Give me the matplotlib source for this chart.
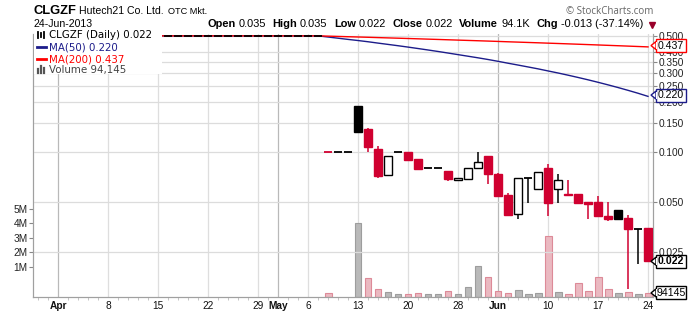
import matplotlib
matplotlib.use("Agg")
import matplotlib.pyplot as plt
from matplotlib.patches import Rectangle, Polygon
from matplotlib.lines import Line2D
import numpy as np
import pandas as pd

plt.rcParams['font.family'] = 'Liberation Sans'

# trading days on the chart (Mar 29 and May 27 were market holidays)
dates = pd.bdate_range('2013-03-27', '2013-06-24')
dates = dates[~dates.isin(pd.to_datetime(['2013-03-29', '2013-05-27']))]

# daily OHLC: no trades at 0.500 until May 8
opens = [0.5, 0.5, 0.5, 0.5, 0.5, 0.5, 0.5, 0.5, 0.5, 0.5,
         0.5, 0.5, 0.5, 0.5, 0.5, 0.5, 0.5, 0.5, 0.5, 0.5,
         0.5, 0.5, 0.5, 0.5, 0.5, 0.5, 0.5, 0.5, 0.5,
         0.1, 0.1, 0.1, 0.189, 0.1375, 0.104, 0.0727, 0.1, 0.1, 0.0907,
         0.08, 0.08, 0.0768, 0.0678, 0.0688, 0.08, 0.095, 0.0737, 0.0551, 0.0422,
         0.0697, 0.0596, 0.0798, 0.0596, 0.0561, 0.0559, 0.05, 0.0498, 0.0412, 0.0446,
         0.0401, 0.0345, 0.035]
highs = [0.5, 0.5, 0.5, 0.5, 0.5, 0.5, 0.5, 0.5, 0.5, 0.5,
         0.5, 0.5, 0.5, 0.5, 0.5, 0.5, 0.5, 0.5, 0.5, 0.5,
         0.5, 0.5, 0.5, 0.5, 0.5, 0.5, 0.5, 0.5, 0.5,
         0.1, 0.1, 0.1, 0.189, 0.139, 0.1087, 0.0946, 0.1, 0.1, 0.0907,
         0.08, 0.08, 0.0768, 0.0697, 0.08, 0.1, 0.095, 0.075, 0.0566, 0.0697,
         0.0697, 0.0755, 0.0843, 0.0734, 0.0681, 0.0559, 0.05, 0.0543, 0.05, 0.0446,
         0.0418, 0.0345, 0.035]
lows = [0.5, 0.5, 0.5, 0.5, 0.5, 0.5, 0.5, 0.5, 0.5, 0.5,
        0.5, 0.5, 0.5, 0.5, 0.5, 0.5, 0.5, 0.5, 0.5, 0.5,
        0.5, 0.5, 0.5, 0.5, 0.5, 0.5, 0.5, 0.5, 0.5,
        0.1, 0.1, 0.1, 0.132, 0.1, 0.0697, 0.0727, 0.1, 0.0895, 0.079,
        0.08, 0.08, 0.067, 0.0678, 0.0688, 0.08, 0.064, 0.0546, 0.0419, 0.0397,
        0.0496, 0.0596, 0.0413, 0.0496, 0.0553, 0.0496, 0.0397, 0.041, 0.0384, 0.0397,
        0.0149, 0.0211, 0.022]
closes = [0.5, 0.5, 0.5, 0.5, 0.5, 0.5, 0.5, 0.5, 0.5, 0.5,
          0.5, 0.5, 0.5, 0.5, 0.5, 0.5, 0.5, 0.5, 0.5, 0.5,
          0.5, 0.5, 0.5, 0.5, 0.5, 0.5, 0.5, 0.5, 0.5,
          0.1, 0.1, 0.1, 0.132, 0.107, 0.0717, 0.0946, 0.1, 0.0895, 0.079,
          0.08, 0.08, 0.069, 0.0697, 0.08, 0.0871, 0.074, 0.0546, 0.0419, 0.0697,
          0.0697, 0.0755, 0.0496, 0.0675, 0.0553, 0.0496, 0.0488, 0.041, 0.0397, 0.0397,
          0.0345, 0.0345, 0.022]
# volume in millions, as bar heights on the overlay scale
volumes = [0, 0, 0, 0, 0, 0, 0, 0, 0, 0,
           0, 0, 0, 0, 0, 0, 0, 0, 0, 0,
           0, 0, 0, 0, 0, 0, 0, 0, 0,
           0.28, 0, 0, 5.1, 1.31, 0.55, 0.34, 0.21, 0.21, 0.28,
           0.21, 0.21, 0.41, 0.21, 0.69, 2.14, 1.38, 0.41, 0.28, 0.48,
           0.21, 0.28, 4.2, 0.34, 0.21, 0.97, 0.41, 1.38, 0.55, 0.28,
           0.34, 0.21, 0.28]
PRIOR_CLOSE = 0.5   # flat price before the window, used to seed the MAs

tick_dates = ['2013-04-01', '2013-04-08', '2013-04-15', '2013-04-22', '2013-04-29',
              '2013-05-01', '2013-05-06', '2013-05-13', '2013-05-20', '2013-05-28',
              '2013-06-03', '2013-06-10', '2013-06-17', '2013-06-24']
tick_labels = ['Apr', '8', '15', '22', '29', 'May', '6', '13', '20', '28',
               'Jun', '10', '17', '24']
month_ticks = ['Apr', 'May', 'Jun']
price_ticks = [0.025, 0.05, 0.1, 0.15, 0.2, 0.25, 0.3, 0.35, 0.4, 0.5]
vol_ticks = [1, 2, 3, 4, 5]

RED = '#d00030'
BLUE = '#1c1c8a'
MA_RED = '#ff0000'
W, H = 700, 312


def fx(px):
    return px / W


def fy(py):
    return 1 - py / H


fig = plt.figure(figsize=(7, 3.12), dpi=100)
ax_v = fig.add_axes([fx(33), fy(297), fx(653) - fx(33), fy(34) - fy(297)])
ax_p = ax_v.twinx()

x = np.arange(len(dates))
o, h, l, c = (np.array(a) for a in (opens, highs, lows, closes))
prev = np.r_[c[0], c[:-1]]
down = c < prev

# volume overlay
VOL_LIM = (-1.07, 17.07)
vol = np.array(volumes)
has = vol > 0
ax_v.bar(x[has], vol[has], bottom=VOL_LIM[0], width=0.7,
         color=np.where(down[has], '#eab9c1', '#b9b9b9'),
         edgecolor=np.where(down[has], '#dd8a98', '#9d9d9d'), linewidth=0.8, zorder=2)
ax_v.set_ylim(*VOL_LIM)
ax_v.set_yticks(vol_ticks)
ax_v.set_yticklabels([f'{v}M' for v in vol_ticks])

# vertical grid on the back axes
xi = {d: i for i, d in enumerate(dates.strftime('%Y-%m-%d'))}
tick_x = [xi[d] for d in tick_dates]
for tx, lab in zip(tick_x, tick_labels):
    ax_v.axvline(tx, color='#b9b9b9' if lab in month_ticks else '#dedede', lw=0.9, zorder=0)

# moving averages
seed = pd.Series([PRIOR_CLOSE] * 200 + closes)
ma50 = seed.rolling(50).mean().to_numpy()[200:]
ma200 = seed.rolling(200).mean().to_numpy()[200:]

ax_p.set_yscale('log')
for t in price_ticks:
    ax_p.axhline(t, color='#dcdcdc', lw=0.9, zorder=0)
ax_p.plot(x, ma50, color=BLUE, lw=1.0, zorder=2)
ax_p.plot(x, ma200, color=MA_RED, lw=1.0, zorder=2)

# candles
for i in x:
    col = RED if down[i] else 'black'
    if h[i] > l[i]:
        ax_p.vlines(i, l[i], h[i], color=col, lw=1.1, zorder=3)
    if o[i] == c[i]:
        ax_p.hlines(c[i], i - 0.36, i + 0.36, color=col, lw=1.3, zorder=4)
    else:
        filled = c[i] < o[i]
        ax_p.bar(i, abs(c[i] - o[i]), bottom=min(o[i], c[i]), width=0.72,
                 color=col if filled else 'white', edgecolor=col, lw=1.0, zorder=4)

ax_p.set_ylim(0.0134, 0.513)
ax_p.set_xlim(-0.5, len(dates) - 0.5)
ax_p.set_yticks(price_ticks)
ax_p.set_yticklabels([f'{t:.3f}' for t in price_ticks])
ax_p.yaxis.set_minor_locator(matplotlib.ticker.NullLocator())

ax_v.set_xticks(tick_x)
ax_v.set_xticklabels(tick_labels)
for lab in ax_v.get_xticklabels():
    if lab.get_text() in month_ticks:
        lab.set_fontweight('bold')
ax_v.set_xticks(x, minor=True)

for a in (ax_v, ax_p):
    for side in ('left', 'right', 'bottom'):
        a.spines[side].set_color('#a0a0a0')
    a.spines['top'].set_visible(False)
ax_v.tick_params(axis='x', which='major', length=0, pad=3, labelsize=7.3, colors='#111')
ax_v.tick_params(axis='x', which='minor', length=2, color='#bbbbbb')
ax_v.tick_params(axis='y', length=3, color='#888', labelsize=7.3, pad=1, labelcolor='#222')
ax_p.tick_params(axis='y', length=3, color='#888', labelsize=7.3, pad=1, labelcolor='#222')

# header
fig.text(fx(33), fy(11), 'CLGZF', fontsize=9.3, fontweight='bold', va='center')
fig.text(fx(79), fy(11), 'Hutech21 Co. Ltd.', fontsize=7.6, va='center')
fig.text(fx(168), fy(11.5), 'OTC Mkt.', fontsize=6.6, va='center')
fig.text(fx(33), fy(24), '24-Jun-2013', fontsize=7.6, va='center')
fig.text(fx(653), fy(11), '\u00a9 StockCharts.com', fontsize=7, family='Open Sans',
         color='#666', va='center', ha='right')

renderer = fig.canvas.get_renderer()
pieces = [('Open', 'bold'), ('0.035', 'normal'), ('High', 'bold'), ('0.035', 'normal'),
          ('Low', 'bold'), ('0.022', 'normal'), ('Close', 'bold'), ('0.022', 'normal'),
          ('Volume', 'bold'), ('94.1K', 'normal'), ('Chg', 'bold'), ('-0.013 (-37.14%)', 'normal')]
cur = 207
for s, wt in pieces:
    t = fig.text(fx(cur), fy(24), s, fontsize=7.9, fontweight=wt, va='center')
    bb = t.get_window_extent(renderer)
    cur = bb.x1 + (3 if wt == 'bold' else 6.5)
fig.add_artist(Line2D([fx(cur + 2)], [fy(24.5)], marker='v', ms=4.5, color='#99002a', ls=''))

# legend block
fig.add_artist(Rectangle((fx(34), fy(74)), fx(162) - fx(34), fy(34) - fy(74),
                         transform=fig.transFigure, fc='white', ec='none', zorder=3))
leg_rows = [('CLGZF (Daily) 0.022', 'black', 35), ('MA(50) 0.220', BLUE, 47),
            ('MA(200) 0.437', MA_RED, 59), ('Volume 94,145', '#444', 70)]
for s, col, yy in leg_rows:
    fig.text(fx(49), fy(yy), s, fontsize=7.4, family='DejaVu Sans', color=col,
             va='center', zorder=4)
for dx, y0, y1 in [(38, 31.5, 38), (41, 33, 37), (44, 32, 38)]:
    fig.add_artist(Line2D([fx(dx), fx(dx)], [fy(y0), fy(y1)], color='black', lw=1.3, zorder=4))
fig.add_artist(Line2D([fx(37), fx(46)], [fy(47), fy(47)], color=BLUE, lw=2, zorder=4))
fig.add_artist(Line2D([fx(37), fx(46)], [fy(59), fy(59)], color=MA_RED, lw=2, zorder=4))
for dx, top in [(38, 69), (41, 66), (44, 67.5)]:
    fig.add_artist(Line2D([fx(dx), fx(dx)], [fy(73), fy(top)], color='#555', lw=1.6, zorder=4))

# value tags on the right edge
fig.canvas.draw()


def tag(ypx, text, col, bold=False):
    fig.add_artist(Rectangle((fx(656), fy(ypx + 6.5)), fx(30), 13 / H,
                             transform=fig.transFigure, fc='white', ec=col, lw=1, zorder=5))
    fig.add_artist(Polygon([(fx(651), fy(ypx)), (fx(656), fy(ypx - 4)), (fx(656), fy(ypx + 4))],
                           closed=True, transform=fig.transFigure, fc='white', ec=col, lw=1, zorder=5))
    fig.add_artist(Rectangle((fx(655.5), fy(ypx + 3.5)), fx(1.2), 7 / H,
                             transform=fig.transFigure, fc='white', ec='none', zorder=6))
    fig.text(fx(671), fy(ypx), text, fontsize=7.6, color='black',
             fontweight='bold' if bold else 'normal', ha='center', va='center', zorder=7)


def to_px(axis, xv, yv):
    return H - axis.transData.transform((xv, yv))[1]


tag(to_px(ax_p, x[-1], 0.437), '0.437', MA_RED)
tag(to_px(ax_p, x[-1], 0.220), '0.220', BLUE)
tag(to_px(ax_p, x[-1], closes[-1]), '0.022', 'black', bold=True)
tag(to_px(ax_v, x[-1], VOL_LIM[0] + volumes[-1]), '94145', 'black')

fig.savefig('out.png', dpi=100)
